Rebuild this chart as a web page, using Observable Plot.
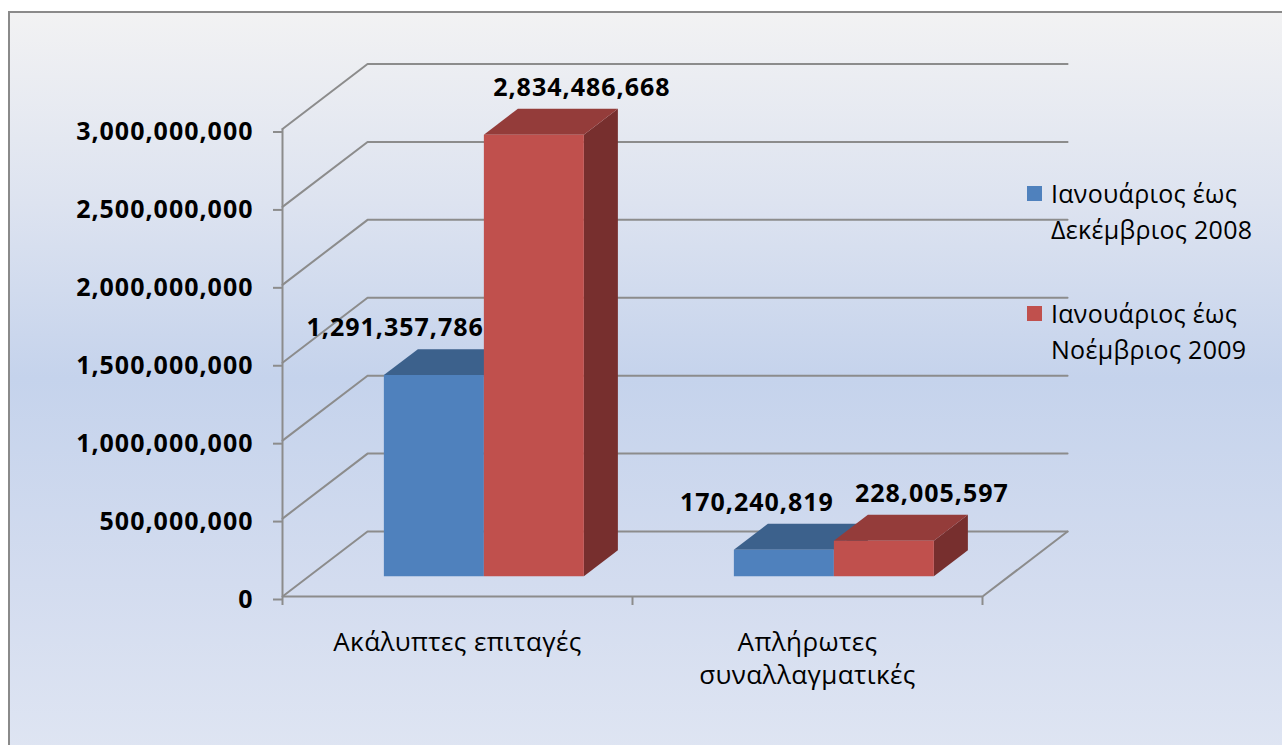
<!DOCTYPE html>
<html>
<head>
<meta charset="utf-8">
<script src="https://cdn.jsdelivr.net/npm/d3@7"></script>
<script src="https://cdn.jsdelivr.net/npm/@observablehq/plot@0.6"></script>
<style>
  html, body { margin: 0; padding: 0; background: #ffffff; }
  #wrap { position: relative; width: 1282px; height: 745px; overflow: hidden; font-family: "Open Sans", "Noto Sans", sans-serif; }
  #bg { position: absolute; left: 8px; top: 11px; width: 1300px; height: 760px;
        border-left: 2px solid #8a8a8a; border-top: 2px solid #8a8a8a;
        background: linear-gradient(to bottom, #f2f2f3 0%, #dde3f0 25%, #c5d3ec 48%, #d3dcef 75%, #e0e6f3 100%); }
  #chart { position: absolute; left: 0; top: 0; }
  #chart g[font-weight="bold"] text { letter-spacing: 1px; }
  #chart g.cat text { letter-spacing: 0.4px; }
  #legend { position: absolute; left: 1027px; top: 175px; font-size: 25px; line-height: 36px; color: #000; letter-spacing: 0.3px; }
  .item { position: relative; padding-left: 24px; margin-bottom: 48px; }
  .sw { position: absolute; left: 0; top: 11px; width: 15px; height: 15px; }
</style>
</head>
<body>
<div id="wrap">
  <div id="bg"></div>
  <div id="chart"></div>
  <div id="legend"></div>
</div>
<script>
// ---- data ----
const categories = ["Ακάλυπτες επιταγές", "Απλήρωτες\nσυναλλαγματικές"];
const seriesNames = ["Ιανουάριος έως\nΔεκέμβριος 2008", "Ιανουάριος έως\nΝοέμβριος 2009"];
const values2008 = [1291357786, 170240819];
const values2009 = [2834486668, 228005597];
const yTicks = [0, 500000000, 1000000000, 1500000000, 2000000000, 2500000000, 3000000000];

// ---- styles ----
const frontColors = ["#4f81bd", "#c0504d"];
const topColors = ["#3c618c", "#943c3a"];
const sideColors = ["#2f4d70", "#772f2e"];
const gridColor = "#8c8c8c";
const FONT = '"Open Sans", "Noto Sans", sans-serif';

// ---- 3D projection (oblique) in data units ----
const DEPTH_X = 0.243;      // category units for the full depth of the plot box
const DEPTH_Y = 4.17e8;     // value units for the full depth of the plot box
const Z0 = 0.31, Z1 = 0.71; // bar front / back depth fractions
const BAR_W = 1 / 3.5;      // gap width 150%
const proj = (x, v, z) => ({x: x + z * DEPTH_X, y: v + z * DEPTH_Y});

const seriesValues = [values2008, values2009];
const bars = [];
categories.forEach((c, i) => {
  seriesValues.forEach((vals, s) => {
    const x1 = i + 0.5 - BAR_W + s * BAR_W;
    bars.push({cat: i, s, x1, x2: x1 + BAR_W, v: vals[i], id: `${i}-${s}`});
  });
});

function face(b, kind) {
  const {x1, x2, v, id} = b;
  let pts;
  if (kind === "side") pts = [[x2, 0, Z0], [x2, v, Z0], [x2, v, Z1], [x2, 0, Z1]];
  else if (kind === "top") pts = [[x1, v, Z0], [x2, v, Z0], [x2, v, Z1], [x1, v, Z1]];
  else pts = [[x1, 0, Z0], [x2, 0, Z0], [x2, v, Z0], [x1, v, Z0]];
  return pts.map(([x, y, z]) => ({...proj(x, y, z), id, s: b.s}));
}

// gridlines on left wall + back wall
const grid = yTicks.flatMap(t => [
  {...proj(0, t, 0), t}, {...proj(0, t, 1), t}, {...proj(categories.length, t, 1), t}
]);
const floorRight = [proj(categories.length, 0, 0), proj(categories.length, 0, 1)];

const faceMarks = [];
for (const kind of ["side", "top", "front"]) {
  for (let s = 0; s < 2; s++) {
    const colors = kind === "side" ? sideColors : kind === "top" ? topColors : frontColors;
    faceMarks.push(Plot.line(bars.filter(b => b.s === s).flatMap(b => face(b, kind)), {
      x: "x", y: "y", z: "id", fill: colors[s], stroke: "none"
    }));
  }
}

// data labels
const labels = bars.map(b => {
  const p = proj(b.s === 0 ? b.x2 : (b.x1 + b.x2) / 2, b.v, Z0);
  return {...p, s: b.s, text: d3.format(",")(b.v)};
});

const plot = Plot.plot({
  width: 1282,
  height: 745,
  marginLeft: 282,
  marginRight: 300,
  marginTop: 128.5,
  marginBottom: 149,
  style: {background: "transparent", overflow: "visible", fontFamily: FONT, color: "#000"},
  x: {domain: [0, categories.length], axis: null},
  y: {domain: [0, 3000000000], axis: null},
  marks: [
    Plot.line(grid, {x: "x", y: "y", z: "t", stroke: gridColor, strokeWidth: 2}),
    Plot.line(floorRight, {x: "x", y: "y", stroke: gridColor, strokeWidth: 2}),
    Plot.ruleX([0], {y1: 0, y2: 3000000000, stroke: gridColor, strokeWidth: 2}),
    Plot.ruleY([0], {x1: 0, x2: categories.length, stroke: gridColor, strokeWidth: 2}),
    Plot.axisY({ticks: yTicks, tickSize: 9, tickPadding: 20, stroke: gridColor, strokeWidth: 2, label: null,
      tickFormat: d3.format(","), fontSize: 25, fontWeight: "bold", fill: "#000", dy: 3}),
    Plot.axisX({ticks: d3.range(categories.length + 1), tickSize: 9, tickFormat: () => "", label: null,
      stroke: gridColor, strokeWidth: 2}),
    ...faceMarks,
    Plot.text(labels.filter(d => d.s === 0), {x: "x", y: "y", text: "text", textAnchor: "end",
      dy: -47, fontSize: 25, fontWeight: "bold", fill: "#000", lineAnchor: "middle"}),
    Plot.text(labels.filter(d => d.s === 1), {x: "x", y: "y", text: "text", textAnchor: "middle",
      dx: 48, dy: -47, fontSize: 25, fontWeight: "bold", fill: "#000", lineAnchor: "middle"}),
    Plot.text(categories.map((c, i) => ({x: i + 0.5, c})), {x: "x", y: () => 0, text: "c",
      lineAnchor: "top", dy: 31, lineHeight: 1.27, fontSize: 26, fill: "#000", className: "cat"})
  ]
});
document.getElementById("chart").appendChild(plot);

// legend
const leg = document.getElementById("legend");
seriesNames.forEach((name, s) => {
  const item = document.createElement("div");
  item.className = "item";
  const sw = document.createElement("span");
  sw.className = "sw";
  sw.style.background = frontColors[s];
  item.appendChild(sw);
  name.split("\n").forEach((line, k) => {
    if (k) item.appendChild(document.createElement("br"));
    item.appendChild(document.createTextNode(line));
  });
  leg.appendChild(item);
});
</script>
</body>
</html>
